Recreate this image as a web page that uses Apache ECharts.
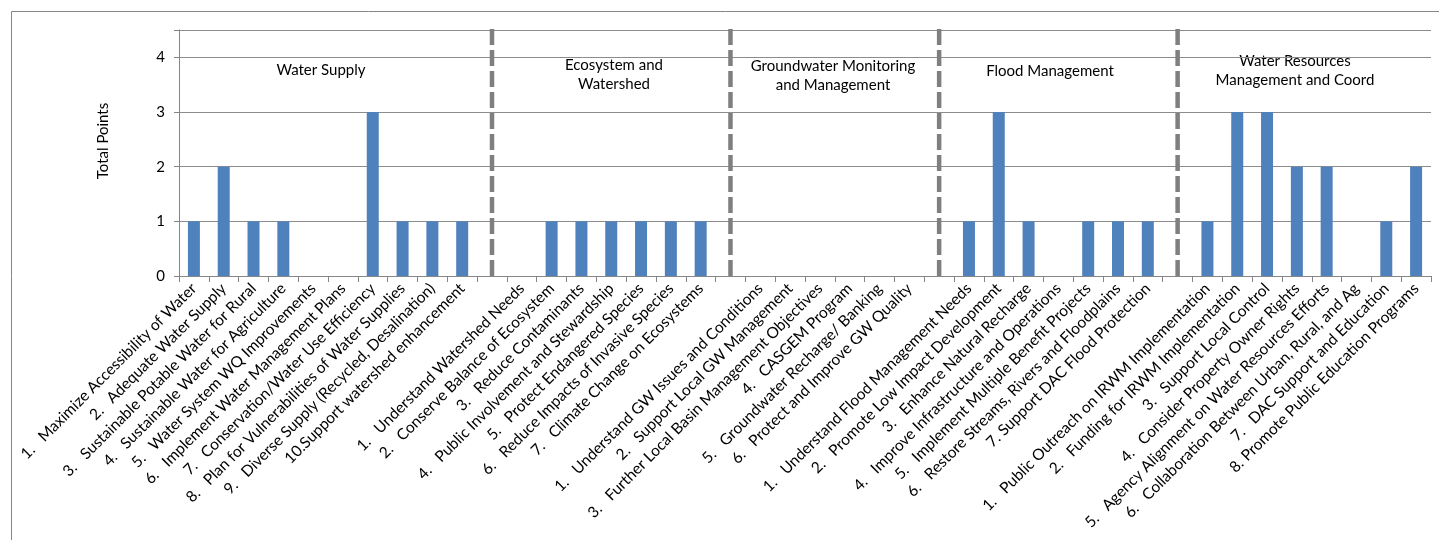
<!DOCTYPE html>
<html><head><meta charset="utf-8">
<script src="https://cdn.jsdelivr.net/npm/echarts@6/dist/echarts.min.js"></script>
<style>html,body{margin:0;padding:0;background:#fff}#c{width:1439px;height:540px}</style>
</head><body><div id="c"></div>
<script>
const SP = '\u00a0\u00a0\u00a0';
// Category labels per group
const waterSupplyLabels = [
  '1.' + SP + 'Maximize Accessibility of Water',
  '2.' + SP + 'Adequate Water Supply',
  '3.' + SP + 'Sustainable Potable Water for Rural',
  '4.' + SP + 'Sustainable Water for Agriculture',
  '5.' + SP + 'Water System WQ Improvements',
  '6.' + SP + 'Implement Water Management Plans',
  '7.' + SP + 'Conservation/Water Use Efficiency',
  '8.' + SP + 'Plan for Vulnerabilities of Water Supplies',
  '9.' + SP + 'Diverse Supply (Recycled, Desalination)',
  '10.Support watershed enhancement'
];
const ecosystemLabels = [
  '1.' + SP + 'Understand Watershed Needs',
  '2.' + SP + 'Conserve Balance of Ecosystem',
  '3.' + SP + 'Reduce Contaminants',
  '4.' + SP + 'Public Involvement and Stewardship',
  '5.' + SP + 'Protect Endangered Species',
  '6.' + SP + 'Reduce Impacts of Invasive Species',
  '7.' + SP + 'Climate Change on Ecosystems'
];
const groundwaterLabels = [
  '1.' + SP + 'Understand GW Issues and Conditions',
  '2.' + SP + 'Support Local GW Management',
  '3.' + SP + 'Further Local Basin Management Objectives',
  '4.' + SP + 'CASGEM Program',
  '5.' + SP + 'Groundwater Recharge/ Banking',
  '6.' + SP + 'Protect and Improve GW Quality'
];
const floodLabels = [
  '1.' + SP + 'Understand Flood Management Needs',
  '2.' + SP + 'Promote Low Impact Development',
  '3.' + SP + 'Enhance Natural Recharge',
  '4.' + SP + 'Improve Infrastructure and Operations',
  '5.' + SP + 'Implement Multiple Benefit Projects',
  '6.' + SP + 'Restore Streams, Rivers and Floodplains',
  '7. Support DAC Flood Protection'
];
const waterResourcesLabels = [
  '1.' + SP + 'Public Outreach on IRWM Implementation',
  '2.' + SP + 'Funding for IRWM Implementation',
  '3.' + SP + 'Support Local Control',
  '4.' + SP + 'Consider Property Owner Rights',
  '5.' + SP + 'Agency Alignment on Water Resources Efforts',
  '6.' + SP + 'Collaboration Between Urban, Rural, and Ag',
  '7.' + SP + 'DAC Support and Education',
  '8. Promote Public Education Programs'
];
// Values (Total Points)
const waterSupplyValues = [1, 2, 1, 1, 0, 0, 3, 1, 1, 1];
const ecosystemValues = [0, 1, 1, 1, 1, 1, 1];
const groundwaterValues = [0, 0, 0, 0, 0, 0];
const floodValues = [1, 3, 1, 0, 1, 1, 1];
const waterResourcesValues = [1, 3, 3, 2, 2, 0, 1, 2];
const groupNames = ['Water Supply', 'Ecosystem and\nWatershed', 'Groundwater Monitoring\nand Management', 'Flood Management', 'Water Resources\nManagement and Coord'];
const yTicks = [0, 1, 2, 3, 4];

const groupLabels = [waterSupplyLabels, ecosystemLabels, groundwaterLabels, floodLabels, waterResourcesLabels];
const groupValues = [waterSupplyValues, ecosystemValues, groundwaterValues, floodValues, waterResourcesValues];

const categories = [];
const values = [];
const separators = [];
groupLabels.forEach((labs, g) => {
  if (g > 0) { separators.push(categories.length); categories.push(''); values.push(null); }
  labs.forEach((l, i) => { categories.push(l); values.push(groupValues[g][i]); });
});

const FONT = 'Lato, "Open Sans", sans-serif';
const chart = echarts.init(document.getElementById('c'), null, {renderer: 'canvas'});

const groupTextPos = [[321, 70], [614, 75], [833, 76], [1050, 71], [1295, 71]];

chart.setOption({
  backgroundColor: '#fff',
  animation: false,
  grid: {left: 179, right: 8, top: 30, bottom: 264, containLabel: false, outerBoundsMode: 'none'},
  xAxis: {
    type: 'category',
    data: categories,
    axisLine: {lineStyle: {color: '#868686', width: 1}},
    axisTick: {show: true, length: 6, lineStyle: {color: '#868686'}},
    axisLabel: {rotate: 45, interval: 0, margin: 10, color: '#000', fontFamily: FONT, fontSize: 15.5}
  },
  yAxis: {
    type: 'value',
    min: 0, max: 4.5, interval: 1,
    axisLine: {show: true, lineStyle: {color: '#868686'}},
    axisTick: {show: true, length: 5, lineStyle: {color: '#868686'}},
    axisLabel: {color: '#000', fontFamily: FONT, fontSize: 15, margin: 14,
      formatter: v => (yTicks.indexOf(v) >= 0 ? String(v) : '')},
    splitLine: {lineStyle: {color: '#8c8c8c', width: 1}}
  },
  series: [{
    type: 'bar',
    data: values,
    barWidth: 12,
    itemStyle: {color: '#4f81bd'},
    silent: true
  }, {
    type: 'custom',
    silent: true,
    clip: false,
    data: separators.map(i => [i]),
    renderItem: (params, api) => {
      const p0 = api.coord([api.value(0), 0]);
      const p1 = api.coord([api.value(0), 4.6]);
      return {
        type: 'line',
        shape: {x1: p0[0], y1: p0[1], x2: p1[0], y2: p1[1]},
        style: {stroke: '#7f7f7f', lineWidth: 4.5, lineDash: [16, 5]}
      };
    },
    z: 3
  }],
  graphic: [
    {type: 'rect', shape: {x: 11.5, y: 11.5, width: 1500, height: 600}, style: {fill: 'none', stroke: '#868686', lineWidth: 1}, silent: true, z: -1},
    {type: 'text', x: 103, y: 141, rotation: Math.PI / 2,
      style: {text: 'Total Points', font: '15px ' + FONT, fill: '#000', textAlign: 'center', textVerticalAlign: 'middle'}}
  ].concat(groupNames.map((n, i) => ({
    type: 'text', x: groupTextPos[i][0], y: groupTextPos[i][1],
    style: {text: n, font: '15px ' + FONT, fill: '#000', textAlign: 'center', textVerticalAlign: 'middle', lineHeight: 19}
  })))
});
</script></body></html>
